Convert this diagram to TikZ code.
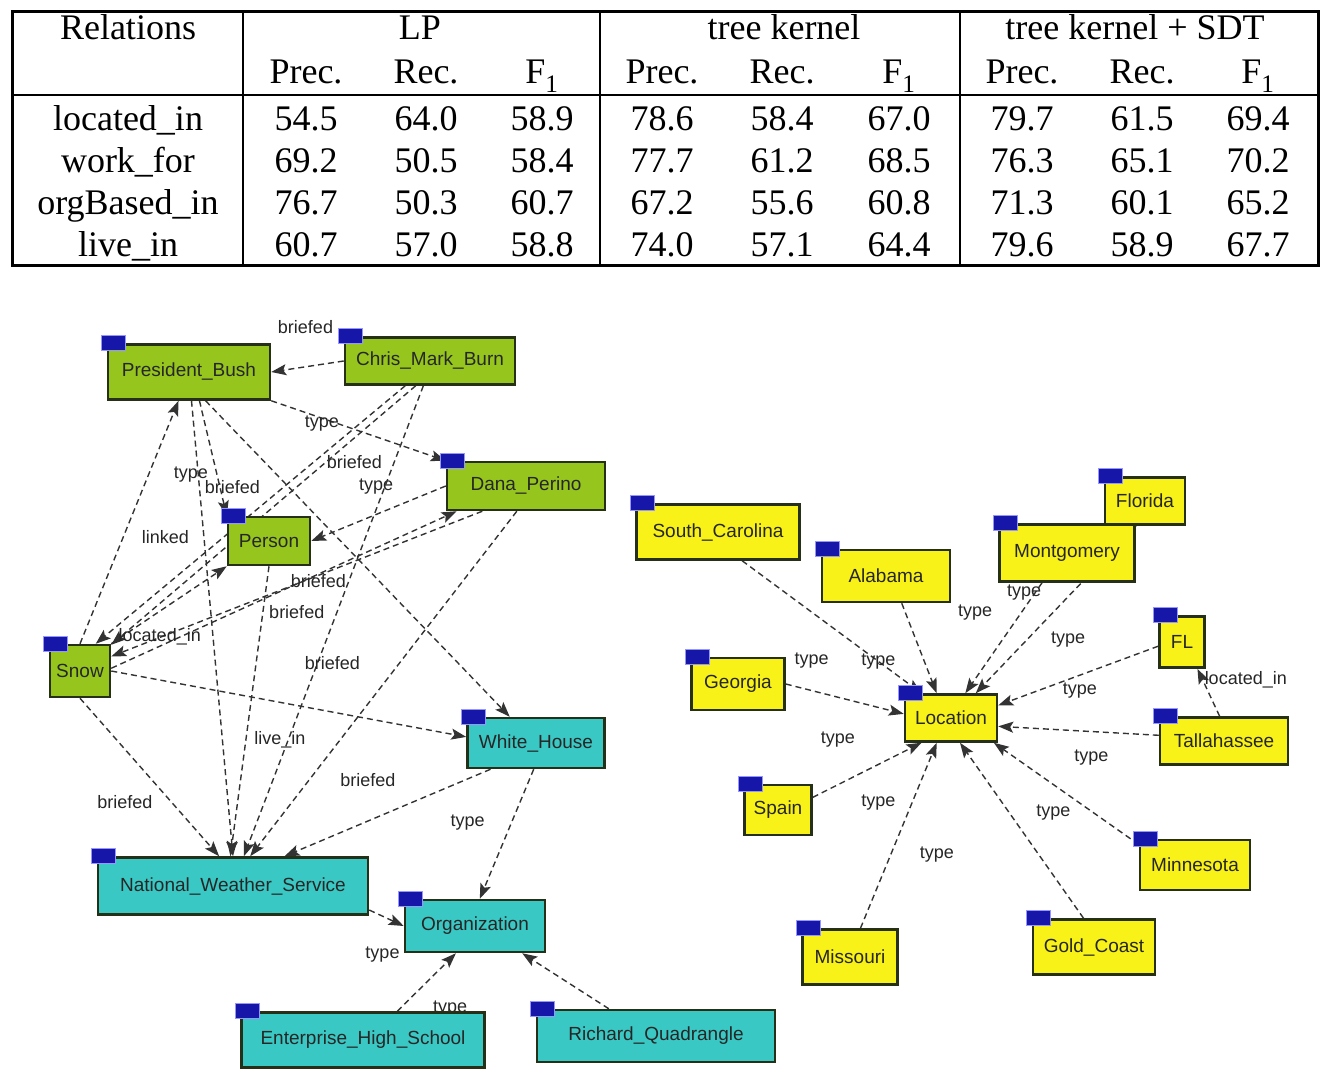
\documentclass[tikz,border=0pt]{standalone}
\usepackage{fontspec}
\setmainfont{Liberation Serif}
\newfontfamily\graphfont{Liberation Sans}
\usetikzlibrary{arrows.meta,calc,backgrounds}
\definecolor{entgreen}{RGB}{150,198,30}
\definecolor{entteal}{RGB}{58,200,196}
\definecolor{entyellow}{RGB}{248,242,24}
\definecolor{entborder}{RGB}{38,48,22}
\definecolor{badgeblue}{RGB}{22,22,168}
\definecolor{badgerim}{RGB}{150,150,255}
\newcommand{\cellfont}{\fontsize{36}{40}\selectfont}
\newcommand{\entfont}{\graphfont\fontsize{19}{22}\selectfont}
\newcommand{\relfont}{\graphfont\fontsize{18}{20}\selectfont}
\newcommand{\idbadge}[1]{\node[badge] (#1-id) at ($(#1.north west)+(7,0)$) {};}
\tikzset{
  ent/.style={draw=entborder, line width=2.5pt, inner sep=2pt, font=\entfont, text=black!85},
  person/.style={ent, fill=entgreen},
  org/.style={ent, fill=entteal},
  loc/.style={ent, fill=entyellow},
  badge/.style={draw=badgerim, fill=badgeblue, line width=1pt, minimum width=24pt, minimum height=15pt, inner sep=0pt},
  rel/.style={draw=black!80, -{Stealth[length=15pt, width=11pt, inset=3pt]}, line width=1.4pt, dash pattern=on 6pt off 4pt},
  lbl/.style={font=\relfont, text=black!85, inner sep=1pt},
  tabcell/.style={font=\cellfont, anchor=base, inner sep=0pt},
}

\begin{document}
\begin{tikzpicture}[x=1pt, y=-1pt]
  \useasboundingbox (0,0) rectangle (1334,1081);

  % results table
  \draw[line width=3pt] (12,12) rectangle (1318,265);
  \draw[line width=2.5pt] (243,12) -- (243,265) (600,12) -- (600,265)
    (960,12) -- (960,265) (12,95) -- (1318,95);
  \node[tabcell] (hd-rel) at (128,40)  {Relations};
  \node[tabcell] (hd-lp)  at (420,40)  {LP};
  \node[tabcell] (hd-tk)  at (784,40)  {tree kernel};
  \node[tabcell] (hd-sdt) at (1135,40) {tree kernel + SDT};
  \foreach \px/\rx/\fx [count=\k] in {306/426/542, 662/782/899, 1022/1142/1258} {
    \node[tabcell] (pr-\k) at (\px,84) {Prec.};
    \node[tabcell] (rc-\k) at (\rx,84) {Rec.};
    \node[tabcell] (f-\k)  at (\fx,84) {F\textsubscript{1}};
  }
  \foreach \name/\va/\vb/\vc/\vd/\ve/\vf/\vg/\vh/\vi [count=\r] in {
      located\_in/54.5/64.0/58.9/78.6/58.4/67.0/79.7/61.5/69.4,
      work\_for/69.2/50.5/58.4/77.7/61.2/68.5/76.3/65.1/70.2,
      orgBased\_in/76.7/50.3/60.7/67.2/55.6/60.8/71.3/60.1/65.2,
      live\_in/60.7/57.0/58.8/74.0/57.1/64.4/79.6/58.9/67.7} {
    \pgfmathsetmacro\yb{88+42*\r}
    \node[tabcell] (row-\r) at (128,\yb) {\name};
    \node[tabcell] (c-\r-1) at (306,\yb)  {\va};
    \node[tabcell] (c-\r-2) at (426,\yb)  {\vb};
    \node[tabcell] (c-\r-3) at (542,\yb)  {\vc};
    \node[tabcell] (c-\r-4) at (662,\yb)  {\vd};
    \node[tabcell] (c-\r-5) at (782,\yb)  {\ve};
    \node[tabcell] (c-\r-6) at (899,\yb)  {\vf};
    \node[tabcell] (c-\r-7) at (1022,\yb) {\vg};
    \node[tabcell] (c-\r-8) at (1142,\yb) {\vh};
    \node[tabcell] (c-\r-9) at (1258,\yb) {\vi};
  }

  % people and organisations
  \node[person, minimum width=162pt, minimum height=55pt] (bush)  at (189,372) {President\_Bush};
  \node[person, minimum width=170pt, minimum height=47pt] (chris) at (430,361) {Chris\_Mark\_Burn};
  \node[person, minimum width=158pt, minimum height=48pt] (dana)  at (526,486) {Dana\_Perino};
  \node[person, minimum width=82pt,  minimum height=48pt] (pers)  at (269,541) {Person};
  \node[person, minimum width=60pt,  minimum height=52pt] (snow)  at (80,671)  {Snow};
  \node[org, minimum width=137pt, minimum height=50pt] (wh)   at (536,743)  {White\_House};
  \node[org, minimum width=270pt, minimum height=57pt] (nws)  at (233,886)  {National\_Weather\_Service};
  \node[org, minimum width=140pt, minimum height=52pt] (orgn) at (475,926)  {Organization};
  \node[org, minimum width=243pt, minimum height=55pt] (ehs)  at (363,1040) {Enterprise\_High\_School};
  \node[org, minimum width=238pt, minimum height=52pt] (rq)   at (656,1036) {Richard\_Quadrangle};

  % locations
  \node[loc, minimum width=163pt, minimum height=55pt] (sc)   at (718,532)  {South\_Carolina};
  \node[loc, minimum width=128pt, minimum height=52pt] (ala)  at (886,576)  {Alabama};
  \node[loc, minimum width=80pt,  minimum height=47pt] (flo)  at (1145,501) {Florida};
  \node[loc, minimum width=135pt, minimum height=57pt] (mont) at (1067,553) {Montgomery};
  \node[loc, minimum width=93pt,  minimum height=52pt] (geo)  at (738,684)  {Georgia};
  \node[loc, minimum width=92pt,  minimum height=47pt] (locn) at (951,718)  {Location};
  \node[loc, minimum width=45pt,  minimum height=51pt] (fl)   at (1182,642) {FL};
  \node[loc, minimum width=128pt, minimum height=47pt] (tal)  at (1224,741) {Tallahassee};
  \node[loc, minimum width=67pt,  minimum height=50pt] (spa)  at (778,810)  {Spain};
  \node[loc, minimum width=110pt, minimum height=50pt] (minn) at (1195,865) {Minnesota};
  \node[loc, minimum width=122pt, minimum height=55pt] (gold) at (1094,947) {Gold\_Coast};
  \node[loc, minimum width=95pt,  minimum height=55pt] (mis)  at (850,957)  {Missouri};

  \foreach \n in {bush,chris,dana,pers,snow,wh,nws,orgn,ehs,rq,
                  sc,ala,flo,mont,geo,locn,fl,tal,spa,minn,gold,mis}
    {\idbadge{\n}}

  % relations
  \begin{scope}[on background layer]
  \path[every edge/.style={rel}]
    (chris.west)       edge node[lbl, xshift=-2pt, yshift=39pt] {briefed} (bush.east)
    (bush.south east)  edge node[lbl, pos=0.29, yshift=-5pt] {type} (dana.north west)
    (snow.north)       edge node[lbl, pos=0.44, xshift=42pt] {linked} (bush.250)
    (bush.290)         edge node[lbl, pos=0.64, xshift=-26pt] {type} (pers.north west)
    (bush.275)         edge node[lbl, pos=0.19, xshift=33pt] {briefed} (nws.north)
    (bush.300)         edge (wh.135)
    (chris.225)        edge node[lbl, pos=0.31, xshift=45pt, yshift=4pt] {briefed} (snow.60)
    (chris.240)        edge node[lbl, pos=0.36, xshift=70pt, yshift=-8pt] {type} (snow.40)
    (chris.255)        edge node[lbl, pos=0.59, xshift=15pt] {briefed} (nws.70)
    (dana.west)        edge (pers.east)
    (snow.5)           edge node[lbl, pos=0.6, yshift=-7pt] {briefed} (dana.200)
    (dana.210)         edge node[lbl, pos=0.5, yshift=-28pt] {briefed} (snow.25)
    (snow.east)        edge (wh.175)
    (snow.north east)  edge node[lbl, pos=0.42, yshift=-26pt] {located\_in} (pers.south west)
    (pers.south)       edge node[lbl, pos=0.6, xshift=34pt] {live\_in} (nws.95)
    (snow.south)       edge node[lbl, pos=0.66, xshift=-47pt] {briefed} (nws.115)
    (dana.250)         edge node[lbl, pos=0.78, xshift=59pt] {briefed} (nws.60)
    (wh.210)           edge (nws.30)
    (wh.265)           edge node[lbl, pos=0.41, xshift=-44pt] {type} (orgn.80)
    (nws.350)          edge node[lbl, xshift=-4pt, yshift=-37pt] {type} (orgn.west)
    (ehs.40)           edge node[lbl, pos=0.05, xshift=50pt] {type} (orgn.235)
    (rq.150)           edge (orgn.330);
  \path[every edge/.style={rel}]
    (sc.310)   edge node[lbl, pos=0.76] {type} (locn.140)
    (ala.300)  edge node[lbl, pos=0.1, xshift=70pt] {type} (locn.120)
    (flo.250)  edge node[lbl, pos=0.68, xshift=41pt] {type} (locn.45)
    (mont.230) edge node[lbl, pos=0.05, xshift=-14pt, yshift=-4pt] {type} (locn.60)
    (geo.east) edge node[lbl, pos=0.22, yshift=30pt] {type} (locn.175)
    (fl.190)   edge node[lbl, pos=0.49, yshift=-15pt] {type} (locn.15)
    (tal.175)  edge node[lbl, pos=0.42, yshift=-26pt] {type} (locn.350)
    (tal.100)  edge node[lbl, pos=0.76, xshift=43pt] {located\_in} (fl.300)
    (spa.20)   edge node[lbl, pos=0.23, yshift=45pt] {type} (locn.220)
    (mis.70)   edge node[lbl, pos=0.68, xshift=-34pt] {type}
                    node[lbl, pos=0.4, xshift=46pt] {type} (locn.240)
    (gold.110) edge node[lbl, pos=0.6, xshift=44pt] {type} (locn.290)
    (minn.160) edge (locn.330);
  \end{scope}
\end{tikzpicture}
\end{document}
